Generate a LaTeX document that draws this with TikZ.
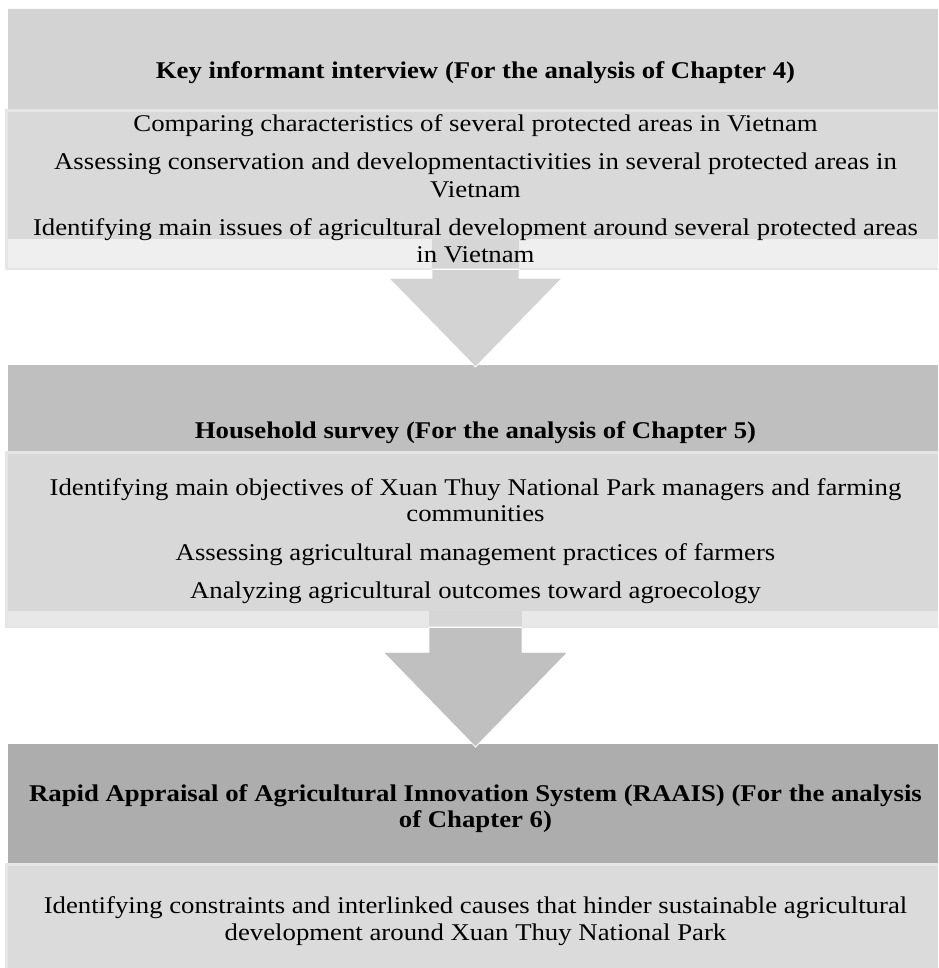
\documentclass[tikz,border=0pt]{standalone}
\usepackage{fontspec}
\setmainfont{Liberation Serif}[FakeStretch=1.115]
\begin{document}
\begin{tikzpicture}[x=1pt,y=-1pt,
  txt/.style={anchor=base,inner sep=0pt,font=\fontsize{24}{28}\selectfont},
  hdr/.style={txt,font=\fontsize{24}{28}\selectfont\bfseries},
  blockarrow/.style={draw=white,line width=0.8pt,line join=miter}]
\definecolor{headA}{RGB}{211,211,211}
\definecolor{headB}{RGB}{191,191,191}
\definecolor{headC}{RGB}{173,173,173}
\definecolor{frameC}{RGB}{229,229,229}
\definecolor{bodyA}{RGB}{217,217,217}
\definecolor{bodyB}{RGB}{216,216,216}
\definecolor{bodyC}{RGB}{219,219,219}
\definecolor{bandA}{RGB}{239,239,239}
\definecolor{bandB}{RGB}{232,232,232}
\definecolor{stemband}{RGB}{214,214,214}
\definecolor{arrowA}{RGB}{211,211,211}
\definecolor{arrowB}{RGB}{192,192,192}
\useasboundingbox (0,0) rectangle (938,968);

% stage 1: header and detail box
\fill[headA] (8,8) rectangle (938,109);
\draw[white!90!headA,line width=1pt] (8,8.5) -- (938,8.5);
\fill[frameC] (5,109) rectangle (938,270);
\fill[bodyA] (8,112) rectangle (938,239.5);
\fill[bandA] (8,239.5) rectangle (938,267.5);

% stage 2: header and detail box
\fill[headB] (8,365) rectangle (938,451);
\fill[frameC] (5,451) rectangle (938,628);
\fill[bodyB] (8,454) rectangle (938,611);
\fill[bandB] (8,611) rectangle (938,626);

% stage 3: header and detail box
\fill[headC] (8,744) rectangle (938,863);
\fill[frameC] (5,863) rectangle (938,968);
\fill[bodyC] (8,866) rectangle (938,968);

% block arrows between the stages
\fill[stemband] (432,239.5) rectangle (519,267.5);
\filldraw[blockarrow,fill=arrowA] (432,269.5) -- (519,269.5) -- (519,278.3) -- (562,278.3)
  -- (475.5,367) -- (389,278.3) -- (432,278.3) -- cycle;
\fill[stemband] (429,611) rectangle (522,626);
\filldraw[blockarrow,fill=arrowB] (429,627.5) -- (522,627.5) -- (522,652.3) -- (567.7,652.3)
  -- (475.5,747) -- (383.3,652.3) -- (429,652.3) -- cycle;

% stage 1 texts
\node[hdr] (h1) at (475.5,78.3) {Key informant interview (For the analysis of Chapter 4)};
\node[txt] (a1) at (475.5,132) {Comparing characteristics of several protected areas in Vietnam};
\node[txt] (a2) at (475.5,170) {Assessing conservation and developmentactivities in several protected areas in};
\node[txt] (a2b) at (475.5,197.5) {Vietnam};
\node[txt] (a3) at (475.5,235.7) {Identifying main issues of agricultural development around several protected areas};
\node[txt] (a3b) at (475.5,262.3) {in Vietnam};

% stage 2 texts
\node[hdr] (h2) at (475.5,438.3) {Household survey (For the analysis of Chapter 5)};
\node[txt] (b1) at (475.5,495) {Identifying main objectives of Xuan Thuy National Park managers and farming};
\node[txt] (b1b) at (475.5,521.7) {communities};
\node[txt] (b2) at (475.5,560.7) {Assessing agricultural management practices of farmers};
\node[txt] (b3) at (475.5,598.3) {Analyzing agricultural outcomes toward agroecology};

% stage 3 texts
\node[hdr] (h3) at (475.5,801) {Rapid Appraisal of Agricultural Innovation System (RAAIS) (For the analysis};
\node[hdr] (h3b) at (475.5,827.3) {of Chapter 6)};
\node[txt] (c1) at (475.5,913.3) {Identifying constraints and interlinked causes that hinder sustainable agricultural};
\node[txt] (c1b) at (475.5,940) {development around Xuan Thuy National Park};
\end{tikzpicture}
\end{document}
